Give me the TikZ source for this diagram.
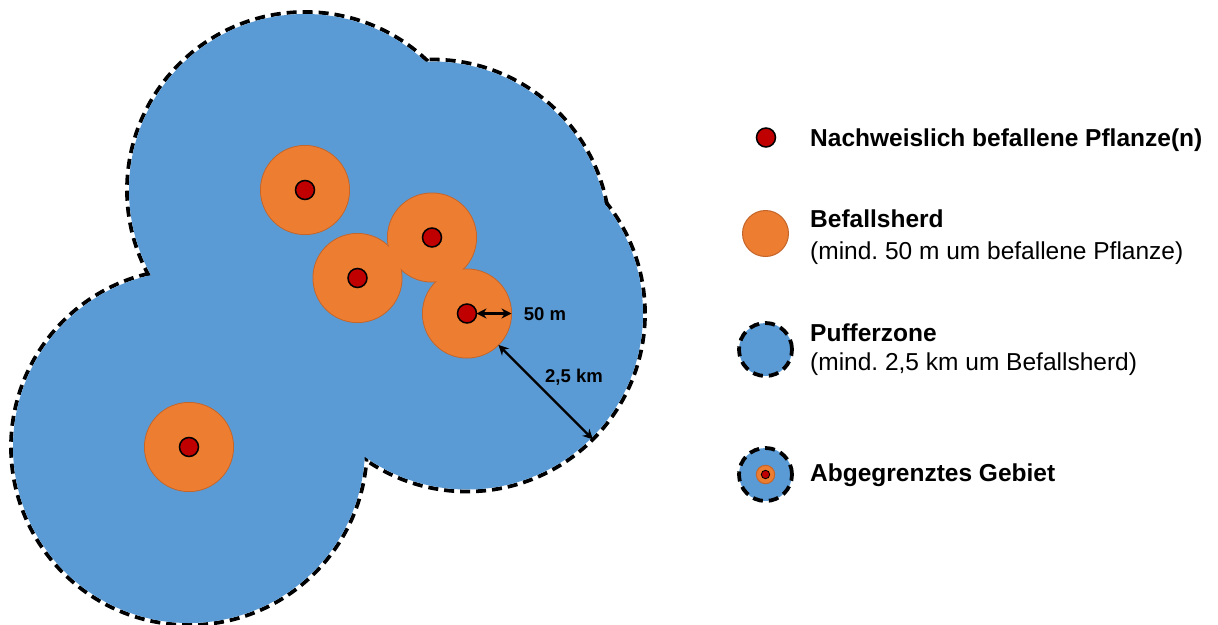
\documentclass[tikz,border=0pt]{standalone}
\usepackage{fontspec}
\setmainfont{Liberation Sans}
\usetikzlibrary{positioning, arrows.meta, calc}
\definecolor{zoneblue}{HTML}{5B9BD5}
\definecolor{herdorange}{HTML}{ED7D31}
\definecolor{herdedge}{HTML}{C4652A}
\definecolor{plantred}{HTML}{C00000}
\frenchspacing
\tikzset{
  zone rim/.style  = {draw=black, line width=3.8pt, dash pattern=on 10pt off 6pt},
  herd/.style      = {circle, draw=herdedge, line width=1pt, fill=herdorange,
                      minimum size=89pt, inner sep=0pt, outer sep=0pt},
  plant/.style     = {circle, draw=black, line width=1.5pt, fill=plantred,
                      minimum size=19pt, inner sep=0pt, outer sep=0pt},
  arrow m/.style   = {{Stealth[length=10pt, width=10pt]}-{Stealth[length=10pt, width=10pt]},
                      line width=2.2pt},
  measure/.style   = {font=\fontsize{18.5}{22}\selectfont\bfseries, inner sep=0pt},
  legend title/.style = {font=\fontsize{24.5}{29}\selectfont\bfseries,
                         anchor=base west, inner sep=0pt},
  legend text/.style  = {font=\fontsize{24.5}{29}\selectfont,
                         anchor=base west, inner sep=0pt},
  legend zone/.style  = {circle, zone rim, fill=zoneblue, minimum size=53pt,
                         inner sep=0pt, outer sep=0pt},
}

\begin{document}
\begin{tikzpicture}[x=1pt, y=-1pt]
\useasboundingbox (0,0) rectangle (1218,624);

% =====================================================================
% Map: buffer zones (union of 2,5 km circles) round the infested plants
% =====================================================================
\coordinate (p1) at (305,   190);
\coordinate (p2) at (432,   237.5);
\coordinate (p3) at (357.5, 278);
\coordinate (p4) at (467,   313.5);
\coordinate (p5) at (189,   447);

% Dashed rims first, then the blue fill hides the inner parts
\foreach \p in {p1, p2, p3, p4, p5}
  \draw[zone rim] (\p) circle (178pt);
\foreach \p in {p1, p2, p3, p4, p5}
  \fill[zoneblue] (\p) circle (176pt);

% Infestation foci (50 m), outlined as a union as well
\foreach \p/\n in {p1/h1, p2/h2, p3/h3, p4/h4, p5/h5}
  \node[herd] (\n) at (\p) {};
\foreach \p in {p1, p2, p3, p4, p5}
  \fill[herdorange] (\p) circle (44pt);

% Infested plants
\foreach \p/\n in {p1/d1, p2/d2, p3/d3, p4/d4, p5/d5}
  \node[plant] (\n) at (\p) {};

% Distances
\coordinate (rim) at ($(p4)+(-45:178pt)$);
\draw[arrow m] (d4.east) -- (h4.east);
\node[measure] (m50) at (545, 314) {50 m};
\draw[arrow m] (h4.south east) -- (rim);
\node[measure] (m25) at (574, 377) {2,5 km};

% =====================================================================
% Legend
% =====================================================================
\node[plant] (lp) at (766, 137.5) {};
\node[legend title] (tp) at (810, 146) {Nachweislich befallene Pflanze(n)};

\node[herd, minimum size=46pt] (lh) at (765.5, 233.5) {};
\node[legend title] (th) at (810, 227) {Befallsherd};
\node[legend text]  (sh) at (810, 259) {(mind. 50 m um befallene Pflanze)};

\node[legend zone] (lz) at (765.5, 349.5) {};
\node[legend title] (tz) at (810, 341) {Pufferzone};
\node[legend text]  (sz) at (810, 370) {(mind. 2,5 km um Befallsherd)};

\node[legend zone] (la) at (765.5, 474.5) {};
\node[herd, minimum size=18.4pt] (lah) at (la) {};
\node[plant, minimum size=8.4pt, line width=0.8pt] (lad) at (la) {};
\node[legend title] (ta) at (810, 481) {Abgegrenztes Gebiet};

\end{tikzpicture}
\end{document}
